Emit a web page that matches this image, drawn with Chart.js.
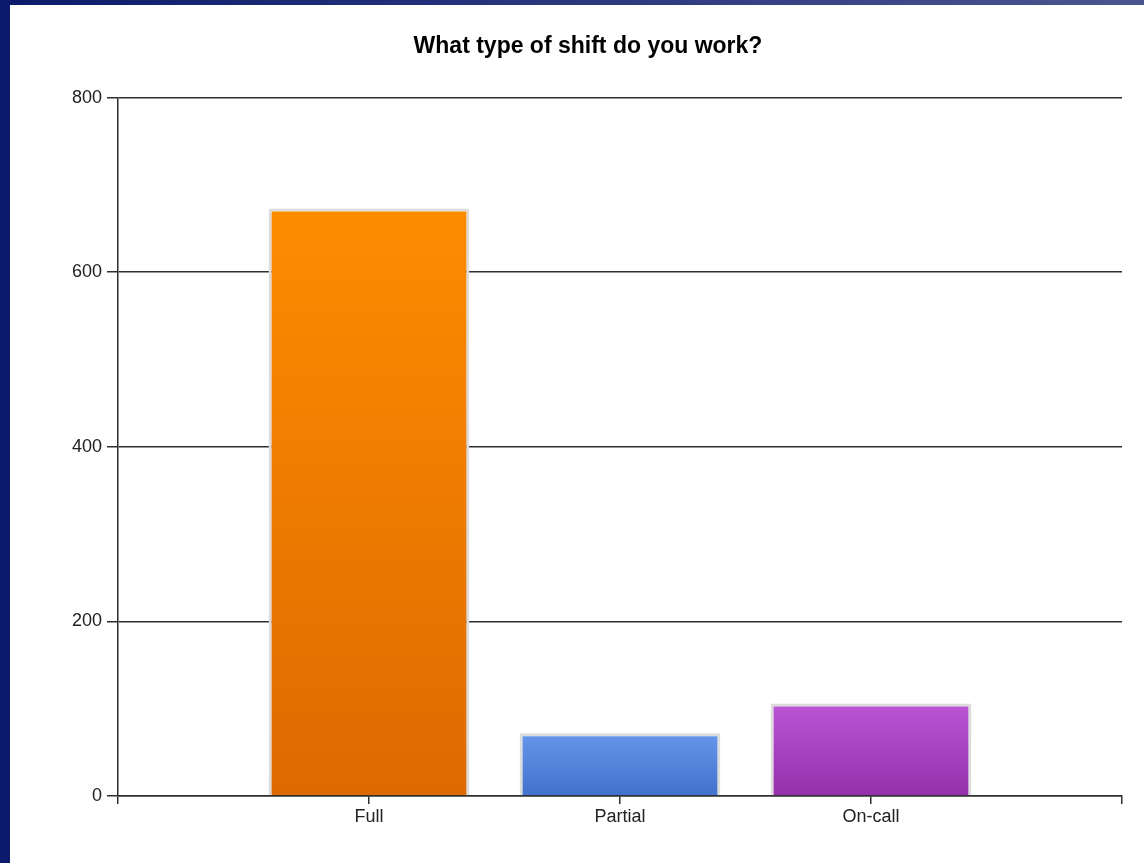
<!DOCTYPE html>
<html>
<head>
<meta charset="utf-8">
<title>What type of shift do you work?</title>
<script src="https://cdn.jsdelivr.net/npm/chart.js@4/dist/chart.umd.min.js"></script>
<style>
  html, body { margin: 0; padding: 0; background: #fff; overflow: hidden; }
  #topbar { position: absolute; left: 0; top: 0; width: 1144px; height: 5px;
            background: linear-gradient(to right, #0c1a6b, #4b5590); }
  #leftbar { position: absolute; left: 0; top: 0; width: 10px; height: 863px; background: #0c1a6b; }
  #wrap { position: absolute; left: 10px; top: 5px; width: 1134px; height: 858px; }
</style>
</head>
<body>
<div id="topbar"></div>
<div id="leftbar"></div>
<div id="wrap"><canvas id="shiftChart"></canvas></div>
<script>
// respuestas por tipo de turno
const categories = ['Full', 'Partial', 'On-call'];
const counts = [673, 72, 106];
const yTicks = [0, 200, 400, 600, 800];

// degradado de cada barra: [arriba, abajo]
const BAR_COLORS = [
    ['#ff8c00', '#dc6a00'],
    ['#6596ea', '#4072cb'],
    ['#bb55d6', '#9530aa']
];

// huecos vacíos a cada lado para que las barras queden en 1..3
const labels = ['', ...categories, ''];
const values = [null, ...counts, null];
const colorByIndex = [null, ...BAR_COLORS, null];

const AXIS = '#2e2e2e';
const FONT = "'Liberation Sans', Arial, sans-serif";

function barGradient(context) {
    const chart = context.chart;
    const pair = colorByIndex[context.dataIndex];
    if (!pair) return 'transparent';
    if (!chart.chartArea || context.raw == null) return pair[0];
    const y = chart.scales.y;
    const g = chart.ctx.createLinearGradient(0, y.getPixelForValue(context.raw), 0, y.getPixelForValue(0));
    g.addColorStop(0, pair[0]);
    g.addColorStop(1, pair[1]);
    return g;
}

const ctx = document.getElementById('shiftChart').getContext('2d');
new Chart(ctx, {
    type: 'bar',
    data: {
        labels: labels,
        datasets: [{
            data: values,
            backgroundColor: barGradient,
            borderColor: '#dcdcdc',
            borderWidth: 3,
            borderSkipped: 'bottom',
            barPercentage: 1,
            categoryPercentage: 0.8
        }]
    },
    options: {
        responsive: true,
        maintainAspectRatio: false,
        animation: false,
        layout: { padding: { left: 44, right: 22, top: 0, bottom: 0 } },
        plugins: {
            legend: { display: false },
            tooltip: { enabled: false },
            title: {
                display: true,
                text: 'What type of shift do you work?',
                color: '#000',
                font: { family: FONT, size: 23, weight: 'bold' },
                padding: { top: 28, bottom: 37 }
            }
        },
        scales: {
            x: {
                type: 'category',
                offset: false,
                afterFit: s => { s.height = 67; },
                border: { display: true, color: AXIS, width: 1.5 },
                grid: { offset: false, drawOnChartArea: false, drawTicks: true, tickLength: 8, color: AXIS, lineWidth: 1.5 },
                ticks: {
                    autoSkip: false, maxRotation: 0, color: '#222', padding: 2,
                    font: { family: FONT, size: 18 }
                }
            },
            y: {
                min: 0,
                max: 800,
                afterFit: s => { s.width = 64; },
                afterBuildTicks: s => { s.ticks = yTicks.map(v => ({ value: v })); },
                border: { display: true, color: AXIS, width: 1.5 },
                grid: { color: AXIS, lineWidth: 1.5, tickLength: 11 },
                ticks: {
                    color: '#222', padding: 5,
                    font: { family: FONT, size: 18 }
                }
            }
        }
    }
});
</script>
</body>
</html>
